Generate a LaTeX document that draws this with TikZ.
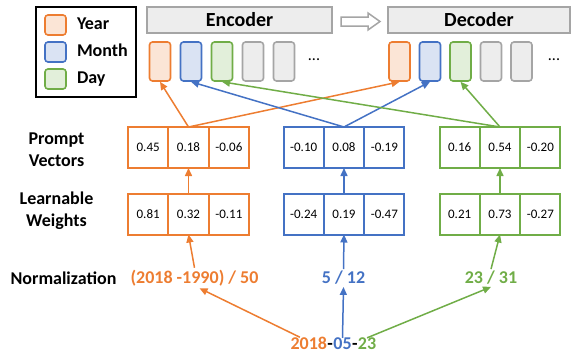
\documentclass[tikz,border=0pt]{standalone}
\usepackage{fontspec}
\setmainfont{Carlito}
\usetikzlibrary{positioning, arrows.meta}
\definecolor{yearc}{HTML}{ED7D31}
\definecolor{monthc}{HTML}{4472C4}
\definecolor{dayc}{HTML}{70AD47}
\definecolor{grayc}{HTML}{A5A5A5}
\tikzset{
  numcell/.style={draw=#1, line width=2pt, minimum width=40.33pt, minimum height=41pt, inner sep=0pt, outer sep=0pt, font=\fontsize{13}{15}\selectfont},
  token/.style={draw=#1, fill=#1!20, line width=1.6pt, rounded corners=3pt, minimum width=21pt, minimum height=39pt, inner sep=0pt},
  swatch/.style={draw=#1, fill=#1!20, line width=1.6pt, rounded corners=3pt, minimum width=21pt, minimum height=20pt, inner sep=0pt},
  lbl/.style={font=\fontsize{18}{22}\selectfont\bfseries, align=center, inner sep=2pt},
  link/.style={draw=#1, line width=1.5pt, -{Triangle[length=8pt, width=7pt]}},
  coder/.style={draw=grayc, fill=grayc!20, line width=2pt, inner sep=0pt, minimum height=26pt, font=\fontsize{20}{24}\selectfont\bfseries}
}
\begin{document}
\begin{tikzpicture}[x=1pt, y=-1pt]
\useasboundingbox (0,0) rectangle (571,356);
%Legend
\node[draw, line width=2pt, minimum width=100pt, minimum height=90pt] (legend) at (86,52) {};
\foreach \i/\col/\txt in {1/yearc/Year, 2/monthc/Month, 3/dayc/Day}{
  \node[swatch=\col] (s\i) at (55.5, -2+27*\i) {};
  \node[lbl, right=8pt of s\i, text height=12.5pt, text depth=4pt] (t\i) {\txt};
}
%Encoder and decoder
\node[coder, minimum width=185pt] (enc) at (239.5,20) {Encoder};
\node[coder, minimum width=182pt] (dec) at (479,20) {Decoder};
\draw[grayc, line width=1.5pt, fill=white] (341,17) -- (368,17) -- (368,13) -- (380,21.5) -- (368,30) -- (368,26) -- (341,26) -- cycle;
\foreach \i/\col in {1/yearc, 2/monthc, 3/dayc, 4/grayc, 5/grayc}{
  \node[token=\col] (e\i) at (129+31*\i, 61.5) {};
  \node[token=\col] (d\i) at (369+30.5*\i, 61.5) {};
}
\node[font=\fontsize{16}{18}\selectfont] (edots) at (314,60) {...};
\node[font=\fontsize{16}{18}\selectfont] (ddots) at (554,60) {...};
%Vectors
\foreach \g/\col/\cx/\pa/\pb/\pc/\wa/\wb/\wc in {y/yearc/188.5/0.45/0.18/-0.06/0.81/0.32/-0.11, m/monthc/344/-0.10/0.08/-0.19/-0.24/0.19/-0.47, d/dayc/500/0.16/0.54/-0.20/0.21/0.73/-0.27}{
  \node[numcell=\col] (p\g2) at (\cx,147.5) {\pb};
  \node[numcell=\col, left=0pt of p\g2] (p\g1) {\pa};
  \node[numcell=\col, right=0pt of p\g2] (p\g3) {\pc};
  \node[numcell=\col] (w\g2) at (\cx,214) {\wb};
  \node[numcell=\col, left=0pt of w\g2] (w\g1) {\wa};
  \node[numcell=\col, right=0pt of w\g2] (w\g3) {\wc};
  \draw[link=\col] (w\g2) -- (p\g2);
}
\draw[link=yearc] (py2.north) -- (e1.south);
\draw[link=yearc] (py2.north) -- (d1.south);
\draw[link=monthc] (pm2.north) -- (e2.south);
\draw[link=monthc] (pm2.north) -- (d2.south);
\draw[link=dayc] (pd2.north) -- (e3.south);
\draw[link=dayc] (pd2.north) -- (d3.south);
%Text
\node[lbl] (pvlabel) at (56.5,150) {Prompt\\Vectors};
\node[lbl] (lwlabel) at (56.5,211) {Learnable\\Weights};
\node[lbl] (nlabel) at (63.5,278) {Normalization};
\node[lbl, text=yearc] (ny) at (194.5,278) {(2018 -1990) / 50};
\node[lbl, text=monthc] (nm) at (343.5,278) {5 / 12};
\node[lbl, text=dayc] (nd) at (491,278) {23 / 31};
\node[lbl, inner sep=0pt, text=monthc] (dmon) at (342.5,344) {05};
\node[lbl, inner sep=0pt, anchor=base east] (dash1) at (dmon.base west) {-};
\node[lbl, inner sep=0pt, anchor=base east, text=yearc] (dyear) at (dash1.base west) {2018};
\node[lbl, inner sep=0pt, anchor=base west] (dash2) at (dmon.base east) {-};
\node[lbl, inner sep=0pt, anchor=base west, text=dayc] (dday) at (dash2.base east) {23};
\draw[link=yearc] ([xshift=-9pt]dyear.north) -- ([xshift=5pt]ny.south);
\draw[link=monthc] (dmon.north) -- (nm.south);
\draw[link=dayc] (dday.north) -- (nd.south);
\draw[link=yearc] (ny.north) -- (wy2.south);
\draw[link=monthc] (nm.north) -- (wm2.south);
\draw[link=dayc] (nd.north) -- (wd2.south);
\end{tikzpicture}
\end{document}
